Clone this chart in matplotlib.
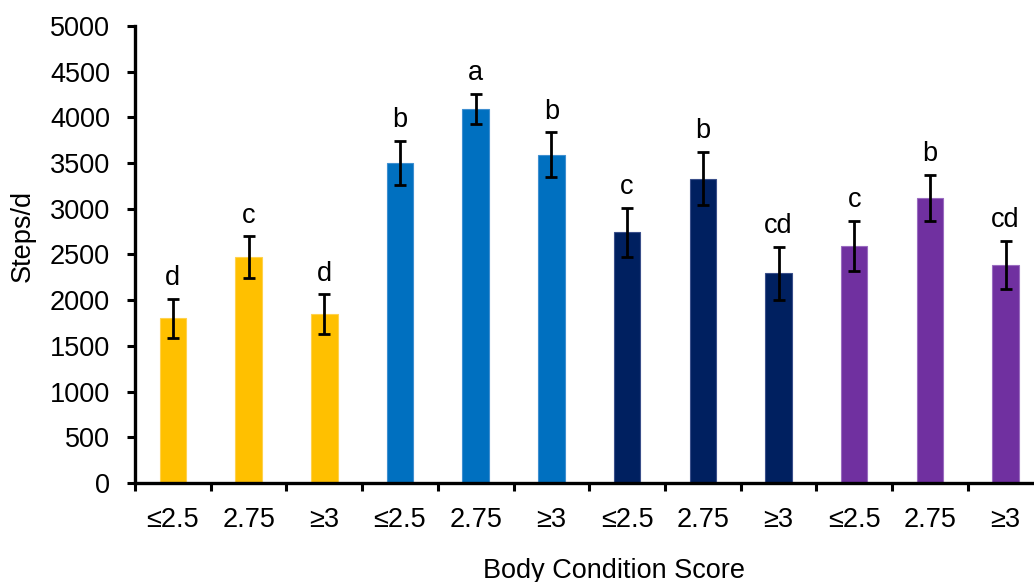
import matplotlib
matplotlib.use("Agg")
import matplotlib.pyplot as plt
import numpy as np

# Daily steps by body condition score, four groups of three scores
bcs_labels = ["≤2.5", "2.75", "≥3"] * 4
steps_mean = [1800, 2470, 1845, 3505, 4095, 3590, 2745, 3330, 2295, 2590, 3120, 2385]
steps_err = [210, 228, 218, 240, 163, 246, 268, 290, 290, 273, 250, 266]
letters = ["d", "c", "d", "b", "a", "b", "c", "b", "cd", "c", "b", "cd"]
group_colors = ["#FFC000", "#0070C0", "#002060", "#7030A0"]
bar_colors = [c for c in group_colors for _ in range(3)]
edge_colors = ["#FFD24D", "#3F8FD0", "#3A4F8A", "#9A6CC0"]
bar_edges = [c for c in edge_colors for _ in range(3)]

plt.rcParams["font.family"] = ["Liberation Sans", "DejaVu Sans"]
FS = 19.5

fig = plt.figure(figsize=(10.34, 5.82), dpi=100)
W, H = 1034, 582
x0, x1 = 135, 1043.5
y_top, y_bot = 26, 483
ax = fig.add_axes([x0 / W, (H - y_bot) / H, (x1 - x0) / W, (y_bot - y_top) / H])

x = np.arange(len(steps_mean))
ax.bar(x, steps_mean, width=0.35, color=bar_colors, edgecolor=bar_edges,
       linewidth=0.8, zorder=2)
ax.errorbar(x, steps_mean, yerr=steps_err, fmt="none", ecolor="black",
            elinewidth=2.0, capsize=4.3, capthick=2.0, zorder=3)

for xi, m, e, t in zip(x, steps_mean, steps_err, letters):
    ax.annotate(t, (xi, m + e), xytext=(0, 10), textcoords="offset points",
                ha="center", va="baseline", fontsize=FS)

ax.set_xlim(-0.5, len(steps_mean) - 0.5)
ax.set_ylim(0, 5000)
ax.set_yticks(np.arange(0, 5001, 500))
ax.tick_params(axis="y", labelsize=FS, length=6, width=2.2, pad=12, direction="out")

# category boundaries carry the tick marks, labels sit at bar centres
ax.set_xticks(np.arange(-0.5, len(steps_mean), 1.0))
ax.set_xticklabels([])
ax.tick_params(axis="x", which="major", length=6, width=2.2, direction="out")
ax.set_xticks(x, minor=True)
ax.set_xticklabels(bcs_labels, minor=True)
ax.tick_params(axis="x", which="minor", length=0, pad=17, labelsize=FS)

for s in ["top", "right"]:
    ax.spines[s].set_visible(False)
for s in ["left", "bottom"]:
    ax.spines[s].set_linewidth(2.4)

fig.text(614 / W, (H - 578) / H, "Body Condition Score", ha="center",
         va="baseline", fontsize=FS)
fig.text(22.5 / W, (H - 236) / H, "Steps/d", ha="center", va="center",
         rotation=90, fontsize=FS)

fig.savefig("out.png", dpi=100)
